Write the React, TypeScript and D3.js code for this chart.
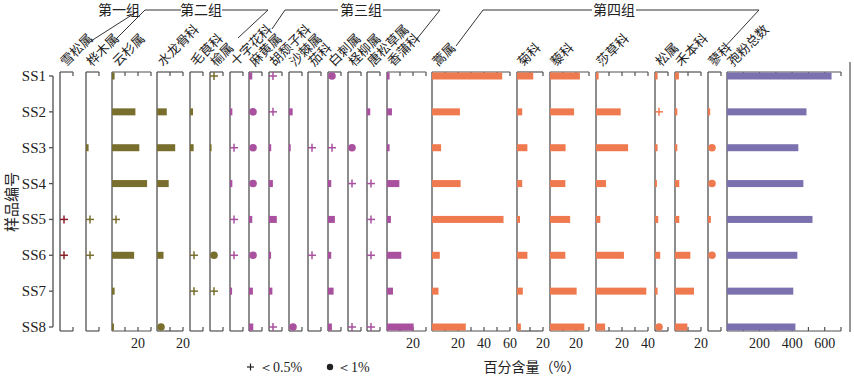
import React from 'react';
import * as d3 from 'd3';

type V = number | '+' | 'o' | null;

const samples = ['SS1', 'SS2', 'SS3', 'SS4', 'SS5', 'SS6', 'SS7', 'SS8'];

// '+' : <0.5%,  'o' : <1%
const xuesong: V[] = [null, null, null, null, '+', '+', null, null];
const huamu: V[] = [null, null, 2, null, '+', '+', null, null];
const yunshan: V[] = [2, 18, 21, 27, '+', 17, 2, 1.5];
const shuilonggu: V[] = [null, 7.5, 14, 9, null, 5, null, 'o'];
const maogen: V[] = [null, 2.3, 2.8, null, null, '+', '+', null];
const yu: V[] = ['+', null, 1.2, null, null, 'o', '+', null];
const shizihua: V[] = [null, 1.8, '+', 1.8, '+', '+', 1.6, null];
const mahuang: V[] = [2.5, 'o', 'o', 'o', 2.5, 'o', 3, 3.3];
const hutuizi: V[] = ['+', '+', 1.7, 3, 6, 1.6, 2.6, '+'];
const shaji: V[] = [null, 2.8, 1.3, null, null, null, null, 'o'];
const qie: V[] = [null, null, '+', null, null, '+', null, null];
const baici: V[] = ['o', null, '+', 2.5, 5.3, 2.5, 4.3, 3];
const chengliu: V[] = [null, null, 'o', '+', null, null, null, '+'];
const tangsongcao: V[] = [null, 2.5, null, '+', '+', '+', null, '+'];
const xiangpu: V[] = [2, 3.8, 2, 9.5, 3, 11, 4.6, 20.5];
const hao: V[] = [54, 21.5, 7, 22, 55, 6, 5, 26];
const ju: V[] = [12.5, 4, 8, 4, 2.3, 8, 4.5, 3];
const li: V[] = [23, 18.5, 12, 11.8, 15.5, 11.8, 20.5, 26.4];
const shacao: V[] = [2, 19, 24.7, 7.7, 3.3, 21.5, 38.7, 7];
const song: V[] = [2, '+', 2, 1.5, 2.5, 4, 2, 'o'];
const heben: V[] = [3, 1.8, 1.8, 3.3, 3.3, 11.8, 14.6, 9.5];
const liao: V[] = [null, 1.7, 'o', 'o', 2.2, 'o', null, null];
const total: V[] = [642, 488, 438, 469, 525, 432, 407, 420];

const taxaNames = ['雪松属', '桦木属', '云杉属', '水龙骨科', '毛茛科', '榆属', '十字花科', '麻黄属', '胡颓子科', '沙棘属', '茄科', '白刺属', '柽柳属', '唐松草属', '香蒲科', '蒿属', '菊科', '藜科', '莎草科', '松属', '禾本科', '蓼科', '孢粉总数'];
const taxaValues = [xuesong, huamu, yunshan, shuilonggu, maogen, yu, shizihua, mahuang, hutuizi, shaji, qie, baici, chengliu, tangsongcao, xiangpu, hao, ju, li, shacao, song, heben, liao, total];
const taxaGroup = [1, 2, 2, 2, 2, 2, 3, 3, 3, 3, 3, 3, 3, 3, 3, 4, 4, 4, 4, 4, 4, 4, 5];
const axisMax = [10, 10, 30, 20, 10, 10, 10, 10, 10, 10, 10, 10, 10, 10, 30, 60, 20, 30, 40, 10, 20, 10, 700];
const tickLabels: number[][] = [[], [], [20], [20], [], [], [], [], [], [], [], [], [], [], [20], [20, 40, 60], [20], [20], [20, 40], [], [20], [], [200, 400, 600]];
const groupNames = ['第一组', '第二组', '第三组', '第四组'];

// layout
const panelX = [60, 86, 112, 157, 190, 210, 230, 249, 269, 289, 308, 328, 348, 367, 387, 432, 517, 550, 596, 655, 675, 708, 727];
const PX_PER_PCT = 1.3;
const TOTAL_WIDTH = 114;
const colors: Record<number, string> = { 1: '#8c1f2a', 2: '#786e2d', 3: '#a9519f', 4: '#f07a50', 5: '#7b71ae' };
const AX = '#505050';
const TOP = 72;
const BOTTOM = 331;
const CJK = '"Noto Sans CJK SC", sans-serif';
const SERIF = '"Liberation Serif", "Times New Roman", serif';

export default function App() {
  const y = d3.scalePoint<string>().domain(samples).range([76, 327]);
  const barH = 7;

  const panels = taxaNames.map((name, i) => {
    const x0 = panelX[i];
    const max = axisMax[i];
    const w = i === taxaNames.length - 1 ? TOTAL_WIDTH : max * PX_PER_PCT;
    const x = d3.scaleLinear().domain([0, max]).range([x0, x0 + w]);
    const step = max > 100 ? 100 : 10;
    const ticks = d3.range(step, max + 0.001, step);
    const color = colors[taxaGroup[i]];
    return { name, x0, x, ticks, color, values: taxaValues[i], labels: tickLabels[i], max };
  });

  return (
    <svg width={854} height={379} style={{ position: 'absolute', left: 0, top: 0, background: '#fff' }}>
      <rect x={0} y={0} width={854} height={379} fill="#fff" />
      {/* y axis */}
      <line x1={53} x2={53} y1={y('SS1')} y2={y('SS8')} stroke={AX} strokeWidth={1.3} />
      {samples.map(s => (
        <g key={s}>
          <line x1={49} x2={53} y1={y(s)} y2={y(s)} stroke={AX} strokeWidth={1.3} />
          <text x={46} y={(y(s) as number) + 5} textAnchor="end" fontFamily={SERIF} fontSize={15} fill="#222">{s}</text>
        </g>
      ))}
      <text transform={`translate(17,202) rotate(-90)`} textAnchor="middle" fontFamily={CJK} fontSize={15} fill="#222">样品编号</text>

      {panels.map((p, i) => (
        <g key={p.name}>
          {/* frame */}
          <line x1={p.x0} x2={p.x0} y1={TOP} y2={BOTTOM} stroke={AX} strokeWidth={1.3} />
          <line x1={p.x0} x2={p.x(p.max)} y1={TOP} y2={TOP} stroke={AX} strokeWidth={1.2} />
          <line x1={p.x0} x2={p.x(p.max)} y1={BOTTOM} y2={BOTTOM} stroke={AX} strokeWidth={1.2} />
          {p.ticks.map(t => (
            <g key={t}>
              <line x1={p.x(t)} x2={p.x(t)} y1={TOP} y2={TOP + 4} stroke={AX} strokeWidth={1.2} />
              <line x1={p.x(t)} x2={p.x(t)} y1={BOTTOM} y2={BOTTOM - 4} stroke={AX} strokeWidth={1.2} />
            </g>
          ))}
          {p.labels.map(t => (
            <text key={t} x={p.x(t)} y={348} textAnchor="middle" fontFamily={SERIF} fontSize={14} fill="#222">{t}</text>
          ))}
          {/* header label */}
          <text transform={`translate(${p.x0 + 6},67) rotate(-45)`} fontFamily={CJK} fontSize={13} fill="#222">{p.name}</text>
          {/* marks */}
          {p.values.map((v, j) => {
            const cy = y(samples[j]) as number;
            if (v === null) return null;
            if (v === '+') {
              const cx = p.x0 + 4;
              return (
                <g key={j} stroke={p.color} strokeWidth={1.5}>
                  <line x1={cx - 4} x2={cx + 4} y1={cy} y2={cy} />
                  <line x1={cx} x2={cx} y1={cy - 4} y2={cy + 4} />
                </g>
              );
            }
            if (v === 'o') {
              return <circle key={j} cx={p.x0 + 4} cy={cy} r={3.8} fill={p.color} />;
            }
            return <rect key={j} x={p.x0} y={cy - barH / 2} width={p.x(v) - p.x0} height={barH} fill={p.color} />;
          })}
        </g>
      ))}

      {/* group brackets */}
      <g stroke="#333" strokeWidth={1} fill="none">
        <polyline points="138,11 91,41" />
        <polyline points="181,10 145,10 116,39" />
        <polyline points="222,10 268,10 238,38" />
        <polyline points="338,10 285,10 272,29" />
        <polyline points="383,10 440,10 416,40" />
        <polyline points="592,10 483,10 456,46" />
        <polyline points="636,10 759,10 722,50" />
      </g>
      <text x={119} y={15} textAnchor="middle" fontFamily={CJK} fontSize={14} fill="#222">{groupNames[0]}</text>
      <text x={201} y={15} textAnchor="middle" fontFamily={CJK} fontSize={14} fill="#222">{groupNames[1]}</text>
      <text x={361} y={15} textAnchor="middle" fontFamily={CJK} fontSize={14} fill="#222">{groupNames[2]}</text>
      <text x={614} y={15} textAnchor="middle" fontFamily={CJK} fontSize={14} fill="#222">{groupNames[3]}</text>

      {/* right frame line */}
      <line x1={850} x2={850} y1={62} y2={332} stroke={AX} strokeWidth={1.2} />

      {/* legend */}
      <g stroke="#222" strokeWidth={1.2}>
        <line x1={247} x2={254} y1={367} y2={367} />
        <line x1={250.5} x2={250.5} y1={363.5} y2={370.5} />
      </g>
      <text x={259} y={372} fontFamily={SERIF} fontSize={14} fill="#222">＜0.5%</text>
      <circle cx={330} cy={367} r={3.2} fill="#222" />
      <text x={337} y={372} fontFamily={SERIF} fontSize={14} fill="#222">＜1%</text>
      <text x={532} y={372} textAnchor="middle" fontFamily={CJK} fontSize={14} fill="#222">百分含量（%）</text>
    </svg>
  );
}
